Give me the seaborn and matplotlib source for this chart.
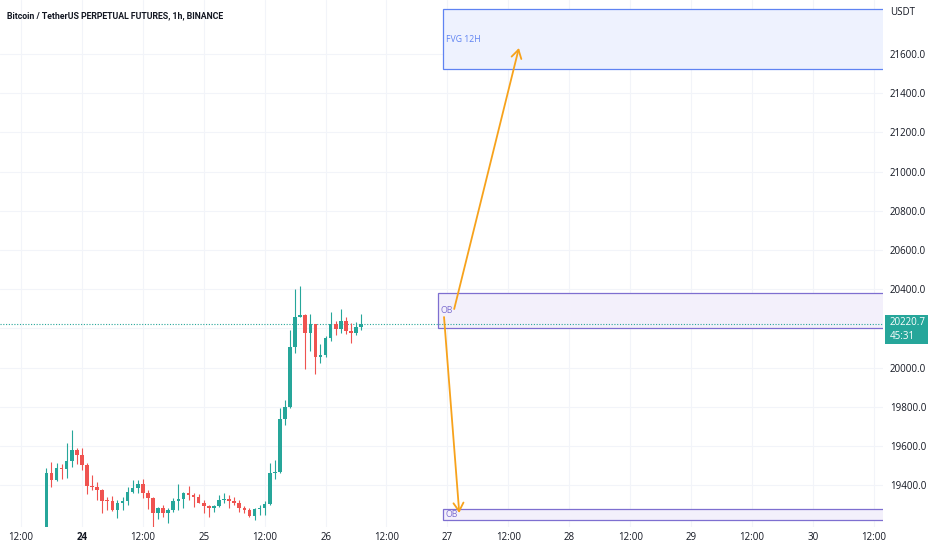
import pandas as pd
import matplotlib
matplotlib.use("Agg")
import matplotlib.pyplot as plt
import matplotlib.dates as mdates
from matplotlib.patches import Rectangle
import seaborn as sns

# hourly candles, BTCUSDT perp
start = "2022-10-23 17:00"
opens = [19189, 19464, 19427, 19486, 19480, 19525, 19580, 19554, 19503, 19398,
         19393, 19376, 19321, 19318, 19274, 19311, 19321, 19367, 19384, 19405,
         19359, 19333, 19257, 19286, 19257, 19271, 19320, 19330, 19362, 19350,
         19342, 19311, 19294, 19282, 19294, 19325, 19328, 19321, 19311, 19286,
         19274, 19245, 19277, 19284, 19304, 19461, 19469, 19736, 19801, 20107,
         20260, 20268, 20178, 20221, 20053, 20064, 20153, 20221, 20195, 20238,
         20187, 20178, 20209]
highs = [19486, 19520, 19512, 19509, 19614, 19682, 19592, 19588, 19512, 19452,
         19418, 19380, 19342, 19345, 19325, 19342, 19393, 19427, 19427, 19432,
         19376, 19342, 19291, 19299, 19282, 19333, 19407, 19364, 19398, 19359,
         19354, 19325, 19299, 19299, 19350, 19359, 19350, 19342, 19325, 19294,
         19282, 19282, 19299, 19321, 19512, 19529, 19792, 19835, 20192, 20401,
         20418, 20272, 20272, 20225, 20121, 20163, 20282, 20240, 20297, 20260,
         20226, 20234, 20274]
lows = [19180, 19389, 19420, 19430, 19435, 19495, 19507, 19478, 19354, 19376,
        19325, 19257, 19274, 19270, 19231, 19274, 19299, 19360, 19360, 19333,
        19277, 19189, 19226, 19237, 19209, 19265, 19274, 19286, 19325, 19288,
        19308, 19257, 19237, 19265, 19291, 19308, 19282, 19299, 19265, 19257,
        19240, 19223, 19248, 19248, 19300, 19430, 19464, 19707, 19795, 20076,
        20258, 19993, 20085, 19968, 20025, 20053, 20136, 20166, 20178, 20170,
        20127, 20166, 20192]
closes = [19464, 19427, 19486, 19480, 19525, 19580, 19554, 19503, 19398, 19393,
          19376, 19321, 19318, 19274, 19311, 19321, 19367, 19384, 19405, 19359,
          19333, 19257, 19286, 19257, 19271, 19320, 19330, 19362, 19350, 19342,
          19311, 19294, 19282, 19294, 19325, 19328, 19321, 19311, 19286, 19274,
          19245, 19277, 19284, 19304, 19461, 19469, 19736, 19801, 20107, 20260,
          20268, 20178, 20221, 20053, 20064, 20153, 20221, 20195, 20238, 20187,
          20178, 20209, 20220.7]

last_price = 20220.7
countdown = "45:31"

# drawn zones: (label, start, end, low, high)
ob_upper = ("OB", "2022-10-26 22:10", "2022-10-30 14:00", 20204, 20382)
ob_lower = ("OB", "2022-10-26 23:10", "2022-10-30 14:00", 19222, 19279)
fvg = ("FVG 12H", "2022-10-26 23:10", "2022-10-30 14:00", 21523, 21830)

# arrows: (from time, from price, to time, to price)
arrow_up = ("2022-10-27 01:20", 20299, "2022-10-27 14:05", 21631)
arrow_down = ("2022-10-26 23:20", 20258, "2022-10-27 02:20", 19258)

price_ticks = [19400, 19600, 19800, 20000, 20200, 20400, 20600, 20800,
               21000, 21200, 21400, 21600]

GREEN = "#26a69a"
RED = "#ef5350"
OB_EDGE = "#7e6fd0"
OB_FILL = "#f3f0fb"
FVG_EDGE = "#5f83f2"
FVG_FILL = "#eef2fe"
ORANGE = "#f7a21b"
TEXT = "#131722"

sns.set_theme(style="white")
plt.rcParams["font.family"] = ["Open Sans", "DejaVu Sans"]

df = pd.DataFrame({
    "time": pd.date_range(start, periods=len(opens), freq="h"),
    "open": opens, "high": highs, "low": lows, "close": closes,
})
df["x"] = mdates.date2num(df["time"])
df["up"] = df["close"] >= df["open"]

fig = plt.figure(figsize=(9.32, 5.5), dpi=100)
ax = fig.add_axes([0.0, 0.042, 0.9474, 0.958])

x0 = mdates.date2num(pd.Timestamp("2022-10-23 07:52"))
x1 = mdates.date2num(pd.Timestamp("2022-10-30 13:48"))
ax.set_xlim(x0, x1)
ax.set_ylim(19187, 21876)

# grid
xticks = pd.date_range("2022-10-23 12:00", "2022-10-30 12:00", freq="12h")
for t in xticks:
    ax.axvline(mdates.date2num(t), color="#f2f4f9", lw=0.8, zorder=0)
for p in price_ticks:
    ax.axhline(p, color="#f2f4f9", lw=0.8, zorder=0)

# zones
for (label, t_a, t_b, lo, hi), edge, fill in [
        (ob_upper, OB_EDGE, OB_FILL), (ob_lower, OB_EDGE, OB_FILL),
        (fvg, FVG_EDGE, FVG_FILL)]:
    xa = mdates.date2num(pd.Timestamp(t_a))
    xb = mdates.date2num(pd.Timestamp(t_b))
    ax.add_patch(Rectangle((xa, lo), xb - xa, hi - lo, facecolor=fill,
                           edgecolor=edge, lw=0.9, zorder=1))

ax.text(mdates.date2num(pd.Timestamp("2022-10-26 22:40")), 20289, "OB",
        color=OB_EDGE, fontsize=6.3, va="center", ha="left", zorder=2)
ax.text(mdates.date2num(pd.Timestamp("2022-10-26 23:40")), 19251, "OB",
        color=OB_EDGE, fontsize=6.3, va="center", ha="left", zorder=2)
ax.text(mdates.date2num(pd.Timestamp("2022-10-26 23:40")), 21676, "FVG 12H",
        color=FVG_EDGE, fontsize=6.3, va="center", ha="left", zorder=2)

# candles
w = 0.72 / 24
for up, color in [(True, GREEN), (False, RED)]:
    sub = df[df["up"] == up]
    ax.vlines(sub["x"], sub["low"], sub["high"], color=color, lw=0.8, zorder=3)
    ax.bar(sub["x"], (sub["close"] - sub["open"]).abs().clip(lower=4),
           bottom=sub[["open", "close"]].min(axis=1), width=w, color=color,
           lw=0, zorder=4)

# last price line
ax.axhline(last_price, color=GREEN, lw=0.8, ls=(0, (1, 1.5)), zorder=2)

# arrows
for ta, pa, tb, pb in [arrow_up, arrow_down]:
    ax.annotate("", xy=(mdates.date2num(pd.Timestamp(tb)), pb),
                xytext=(mdates.date2num(pd.Timestamp(ta)), pa),
                arrowprops=dict(arrowstyle="->,head_length=0.5,head_width=0.3",
                                color=ORANGE, lw=1.3, shrinkA=0, shrinkB=0),
                zorder=5)

# axes
ax.set_xticks(mdates.date2num(xticks))
xlabels = ["12:00" if t.hour == 12 else str(t.day) for t in xticks]
ax.set_xticklabels(xlabels, fontsize=7, color=TEXT)
for lbl, t in zip(ax.get_xticklabels(), xticks):
    if t.day == 24 and t.hour == 0:
        lbl.set_fontweight("bold")
ax.yaxis.tick_right()
ax.set_yticks(price_ticks)
ax.set_yticklabels(["" if p == 20200 else f"{p:.1f}" for p in price_ticks],
                   fontsize=7, color=TEXT)
ax.tick_params(axis="both", length=0)
ax.tick_params(axis="y", pad=5)
ax.tick_params(axis="x", pad=4)
for s in ax.spines.values():
    s.set_visible(False)

# price tag
ax.add_patch(Rectangle((1.002, 20120), 0.049, 148, transform=ax.get_yaxis_transform(),
                       facecolor=GREEN, edgecolor="none", clip_on=False, zorder=6))
ax.text(1.008, 20229, f"{last_price:.1f}", transform=ax.get_yaxis_transform(),
        color="white", fontsize=7, va="center", ha="left", zorder=7)
ax.text(1.008, 20160, countdown, transform=ax.get_yaxis_transform(),
        color="white", fontsize=7, va="center", ha="left", zorder=7)

fig.text(0.955, 0.978, "USDT", fontsize=7, color=TEXT, va="center", ha="left")
fig.text(0.007, 0.972, "Bitcoin / TetherUS PERPETUAL FUTURES, 1h, BINANCE",
         fontsize=6.3, fontweight="bold", color=TEXT, va="center", ha="left",
         family=["Roboto", "DejaVu Sans"])

fig.savefig("out.png", dpi=100)
